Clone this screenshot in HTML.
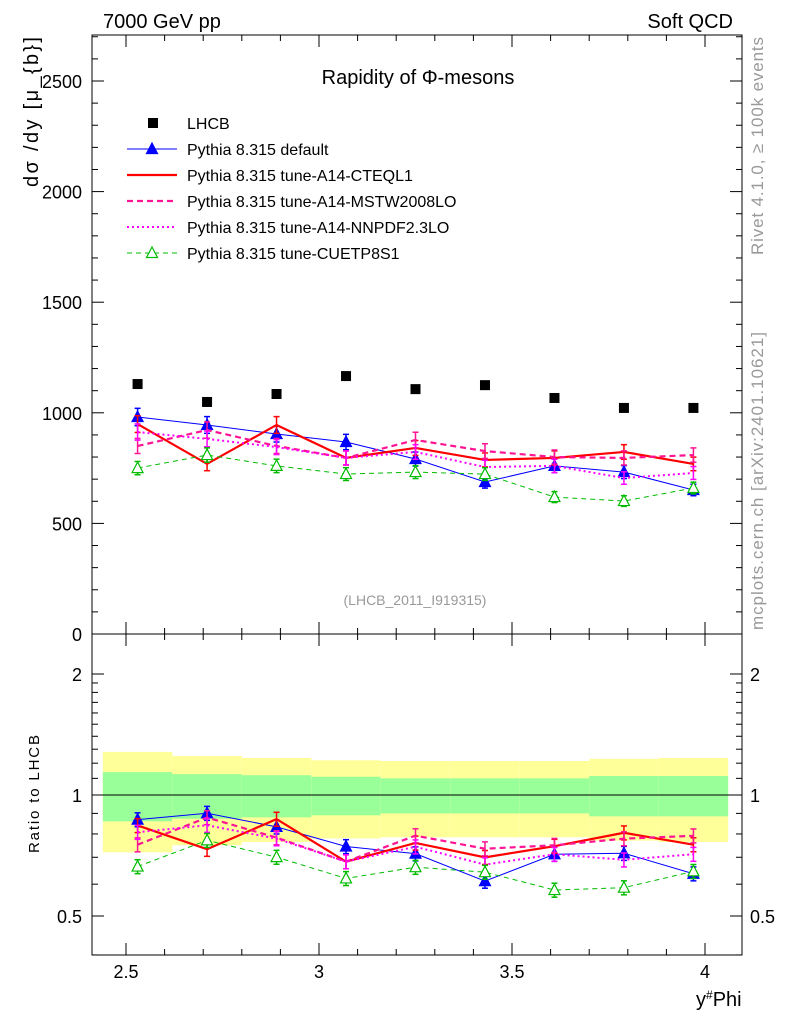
<!DOCTYPE html>
<html><head><meta charset="utf-8"><style>
body{margin:0;background:#fff}
svg{display:block;font-family:"Liberation Sans",sans-serif}
</style></head><body>
<svg id="c" width="786" height="1024" viewBox="0 0 786 1024"></svg>
<script>
const xCenters=[2.53,2.71,2.89,3.07,3.25,3.43,3.61,3.79,3.97];
const binEdges=[2.44,2.62,2.80,2.98,3.16,3.34,3.52,3.70,3.88,4.06];
const lhcb=[1130,1049,1085,1166,1107,1125,1067,1022,1022];
const yellowErr=[0.28,0.25,0.236,0.22,0.215,0.215,0.215,0.23,0.236];
const greenErr=[0.14,0.127,0.12,0.11,0.10,0.10,0.10,0.115,0.115];
const sDefault=[981,945,904,868,791,687,760,732,651];
const sCTEQ=[949,769,945,796,841,787,796,823,769];
const sMSTW=[850,922,850,796,877,827,800,796,809];
const sNNPDF=[913,882,845,796,823,755,760,705,728];
const sCUETP=[750,809,760,723,732,723,619,601,660];
const xTicks=[2.5,3,3.5,4];
const yTicks=[0,500,1000,1500,2000,2500];
const rTicks=[0.5,1,2];

const NS="http://www.w3.org/2000/svg";
const svg=document.getElementById('c');
function el(t,a,p){const e=document.createElementNS(NS,t);for(const k in a)e.setAttribute(k,a[k]);(p||svg).appendChild(e);return e;}
const L=92,R=742,T=35,M=634,B=955;
const X=v=>126+(v-2.5)*386;
const Y=v=>634-v*0.2212;
const RY=r=>795-Math.log2(r)*121;

for(let i=0;i<9;i++){
  let x0=X(binEdges[i]),x1=X(binEdges[i+1]);
  let r=el('rect',{x:x0,y:RY(1+yellowErr[i]),width:x1-x0,height:RY(1-yellowErr[i])-RY(1+yellowErr[i]),fill:'#ffff99'});
  
  
  let g=el('rect',{x:x0,y:RY(1+greenErr[i]),width:x1-x0,height:RY(1-greenErr[i])-RY(1+greenErr[i]),fill:'#99ff99'});
  
  
}
el('line',{x1:L,x2:R,y1:RY(1),y2:RY(1),stroke:'#000','stroke-width':1});

el('rect',{x:L,y:T,width:R-L,height:M-T,fill:'none',stroke:'#000'});
el('rect',{x:L,y:M,width:R-L,height:B-M,fill:'none',stroke:'#000'});

for(let v=2.4;v<=4.06;v+=0.1){
  const x=X(v);if(x<L||x>R)continue;
  const major=Math.abs(v*2-Math.round(v*2))<0.01;
  const len=major?12:6;
  el('line',{x1:x,x2:x,y1:B,y2:B-len,stroke:'#000'});
  el('line',{x1:x,x2:x,y1:M,y2:M-len,stroke:'#000'});
  el('line',{x1:x,x2:x,y1:M,y2:M+len,stroke:'#000'});
  el('line',{x1:x,x2:x,y1:T,y2:T+len,stroke:'#000'});
}
xTicks.forEach(v=>{const t=el('text',{x:X(v),y:978,'font-size':18,'text-anchor':'middle'});t.textContent=String(v);

});
for(let v=0;v<=2700;v+=100){
  const y=Y(v);if(y<T)continue;
  const len=v%500==0?12:6;
  el('line',{x1:L,x2:L+len,y1:y,y2:y,stroke:'#000'});
  el('line',{x1:R,x2:R-len,y1:y,y2:y,stroke:'#000'});
}
yTicks.forEach(v=>{const t=el('text',{x:82,y:Y(v)+7,'font-size':18,'text-anchor':'end'});t.textContent=String(v);

});
[0.4,0.5,0.6,0.7,0.8,0.9,1,1.1,1.2,1.3,1.4,1.5,1.6,1.7,1.8,1.9,2].forEach(r=>{
  const y=RY(r);if(y>B||y<M)return;
  const len=rTicks.includes(r)?12:6;
  el('line',{x1:L,x2:L+len,y1:y,y2:y,stroke:'#000'});
  el('line',{x1:R,x2:R-len,y1:y,y2:y,stroke:'#000'});
});
rTicks.forEach(r=>{
  let t=el('text',{x:82,y:RY(r)+7,'font-size':18,'text-anchor':'end'});t.textContent=String(r);
  
  
  t=el('text',{x:750,y:RY(r)+7,'font-size':18});t.textContent=String(r);
  
  
});

const series=[
 {name:'default',d:sDefault,c:'#0000ff',w:1,dash:'',m:'tri'},
 {name:'cteql1',d:sCTEQ,c:'#ff0000',w:2.2,dash:'',m:'none'},
 {name:'mstw',d:sMSTW,c:'#ff1493',w:2.2,dash:'6,4',m:'none'},
 {name:'nnpdf',d:sNNPDF,c:'#ff00ff',w:2,dash:'2,3',m:'none'},
 {name:'cuetp',d:sCUETP,c:'#00bb00',w:1,dash:'5,4',m:'otri'}
];
function tri(x,y,c,filled,name){const p=el('polygon',{points:`${x},${y-6} ${x-5.5},${y+4.5} ${x+5.5},${y+4.5}`,fill:filled?c:'#fff',stroke:c,'stroke-width':1.2});

}
function drawSeries(s,yf,vals){
  const pts=vals.map((v,i)=>X(xCenters[i])+','+yf(v)).join(' ');
  const pl=el('polyline',{points:pts,fill:'none',stroke:s.c,'stroke-width':s.w,'stroke-dasharray':s.dash});
  
  
  vals.forEach((v,i)=>{
    const x=X(xCenters[i]);const e=0.04*v;
    const y1=yf(v+e),y2=yf(v-e);
    el('line',{x1:x,x2:x,y1:y1,y2:y2,stroke:s.c,'stroke-width':1.5});
    el('line',{x1:x-3,x2:x+3,y1:y1,y2:y1,stroke:s.c,'stroke-width':1.5});
    el('line',{x1:x-3,x2:x+3,y1:y2,y2:y2,stroke:s.c,'stroke-width':1.5});
    if(s.m=='tri')tri(x,yf(v),s.c,true,'point-'+s.name);
    if(s.m=='otri')tri(x,yf(v),s.c,false,'point-'+s.name);
  });
}
series.forEach(s=>{
  drawSeries(s,Y,s.d);
  drawSeries(s,RY,s.d.map((v,i)=>v/lhcb[i]));
});
lhcb.forEach((v,i)=>{const r=el('rect',{x:X(xCenters[i])-5,y:Y(v)-5,width:10,height:10,fill:'#000'});

});

const leg=[['LHCB','sq'],['Pythia 8.315 default',0],['Pythia 8.315 tune-A14-CTEQL1',1],['Pythia 8.315 tune-A14-MSTW2008LO',2],['Pythia 8.315 tune-A14-NNPDF2.3LO',3],['Pythia 8.315 tune-CUETP8S1',4]];
leg.forEach((l,i)=>{
  const y=123+i*26;
  const g=el('g',{});
  
  
  if(l[1]==='sq')el('rect',{x:148,y:y-5,width:10,height:10,fill:'#000'},g);
  else{const s=series[l[1]];
    el('line',{x1:127,x2:177,y1:y,y2:y,stroke:s.c,'stroke-width':s.w,'stroke-dasharray':s.dash},g);
    if(s.m=='tri')tri(152,y,s.c,true,'legend-marker');
    if(s.m=='otri')tri(152,y,s.c,false,'legend-marker');}
  const t=el('text',{x:187,y:y+6,'font-size':16},g);t.textContent=l[0];
});

function txt(s,a,name){const t=el('text',a);t.textContent=s;return t;}
txt('7000 GeV pp',{x:103,y:28,'font-size':20},'energy-label');
txt('Soft QCD',{x:733,y:28,'font-size':20,'text-anchor':'end'},'process-label');
txt('Rapidity of Φ-mesons',{x:418,y:84,'font-size':20,'text-anchor':'middle'},'plot-title');
txt('(LHCB_2011_I919315)',{x:415,y:605,'font-size':14,'text-anchor':'middle',fill:'#999'},'analysis-id');
txt('dσ /dy  [μ_{b}]',{x:0,y:0,'font-size':20,'text-anchor':'end','textLength':150,transform:'translate(38,37) rotate(-90)'},'y-axis-title');
txt('Ratio to LHCB',{x:0,y:0,'font-size':15,'text-anchor':'middle','textLength':118,transform:'translate(39,794) rotate(-90)'},'ratio-axis-title');
const xt=txt('y',{x:696,y:1006,'font-size':20},'x-axis-title');
const sup=el('tspan',{'font-size':12,dy:-7},xt);sup.textContent='#';
const ph=el('tspan',{'font-size':20,dy:7},xt);ph.textContent='Phi';
txt('Rivet 4.1.0, ≥ 100k events',{x:0,y:0,'font-size':17,'text-anchor':'middle',fill:'#999','textLength':218,transform:'translate(763,146) rotate(-90)'},'rivet-label');
txt('mcplots.cern.ch [arXiv:2401.10621]',{x:0,y:0,'font-size':17,'text-anchor':'middle',fill:'#999','textLength':298,transform:'translate(763,481) rotate(-90)'},'mcplots-label');
</script>
</body></html>
